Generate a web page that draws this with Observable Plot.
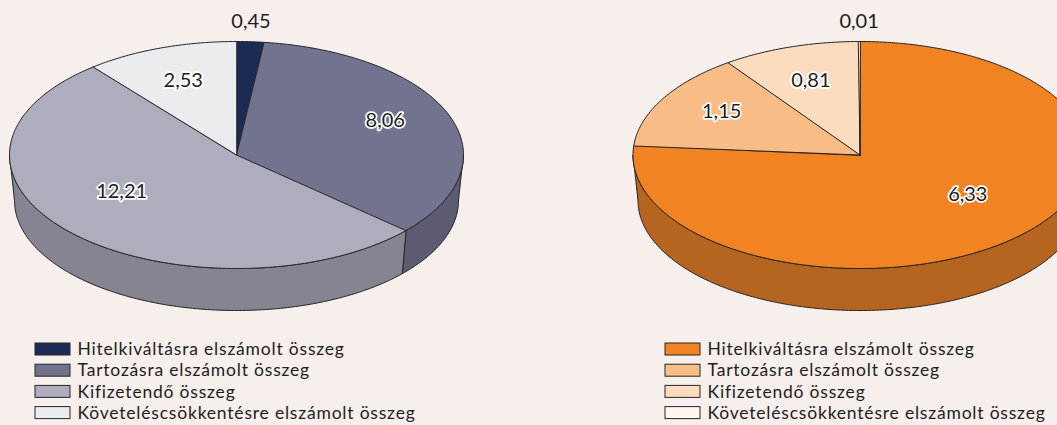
<!DOCTYPE html>
<html><head><meta charset="utf-8">
<script src="https://cdn.jsdelivr.net/npm/d3@7"></script>
<script src="https://cdn.jsdelivr.net/npm/@observablehq/plot@0.6"></script>
<style>
html,body{margin:0;padding:0;background:#F6EFEC;}
#chart{width:1057px;height:425px;overflow:hidden;}
</style></head><body><div id="chart"></div>
<script>
// ---- data ----
const categories = ["Hitelkiváltásra elszámolt összeg","Tartozásra elszámolt összeg","Kifizetendő összeg","Követeléscsökkentésre elszámolt összeg"];
const leftValues = [0.45, 8.06, 12.21, 2.53];
const rightValues = [6.33, 1.15, 0.81, 0.01];
const leftColors = ["#1B2B55","#72738F","#AEADBE","#EBECEF"];
const leftSideColors = ["#121D3A","#5B5B72","#868491","#BCBDC0"];
const rightColors = ["#F28322","#F8BC86","#FCDCBE","#FEF7F0"];
const rightSideColors = ["#B5651F","#C4926A","#CCB29A","#CFC9C3"];
const fmt = v => v.toFixed(2).replace(".", ",");

// ---- layout ----
const W = 1057, H = 425;
const CY = 154.5, RX = 227, RY = 113.5;      // top face ellipse
const BCY = 200, BRX = 222, BRY = 110;       // bottom rim ellipse (perspective)
const pies = [
  {values: leftValues, colors: leftColors, side: leftSideColors, cx: 236, lx: 35},
  {values: rightValues, colors: rightColors, side: rightSideColors, cx: 859.5, lx: 665}
];
const topPt = (cx, a) => ({x: cx + RX * Math.sin(a), y: CY - RY * Math.cos(a)});
const botPt = (cx, a) => ({x: cx + BRX * Math.sin(a), y: BCY - BRY * Math.cos(a)});
function arc(fn, cx, a0, a1) {
  const n = Math.max(2, Math.ceil(Math.abs(a1 - a0) / (Math.PI / 180)) + 1);
  return d3.range(n).map(i => fn(cx, a0 + (a1 - a0) * i / (n - 1)));
}

const sidePolys = [], topPolys = [], labels = [], legendRows = [];
pies.forEach((p, pi) => {
  const total = d3.sum(p.values);
  let acc = 0;
  p.values.forEach((v, i) => {
    const a0 = acc / total * 2 * Math.PI;
    acc += v;
    const a1 = acc / total * 2 * Math.PI;
    topPolys.push({fill: p.colors[i], pts: [{x: p.cx, y: CY}, ...arc(topPt, p.cx, a0, a1)]});
    const s = Math.max(a0, Math.PI / 2), e = Math.min(a1, 3 * Math.PI / 2);
    if (e > s) {
      sidePolys.push({fill: p.side[i], pts: [...arc(topPt, p.cx, s, e), ...arc(botPt, p.cx, e, s)]});
    }
    const m = (a0 + a1) / 2;
    const frac = v / total;
    if (frac < 0.03) {
      labels.push({x: p.cx + RX * 1.05 * Math.sin(m), y: CY - RY - 20, text: fmt(v), outside: true});
    } else {
      labels.push({x: p.cx + 0.7 * RX * Math.sin(m), y: CY - 10 - 0.6 * RY * Math.cos(m), text: fmt(v), outside: false});
    }
    legendRows.push({x: p.lx, y: 349 + i * 21.2, fill: p.colors[i], text: categories[i]});
  });
});

const polyMark = poly => Plot.line(poly.pts, {
  x: "x", y: "y", fill: poly.fill, stroke: "#262626", strokeWidth: 1,
  curve: "linear-closed", strokeLinejoin: "round"
});

const chart = Plot.plot({
  width: W, height: H, margin: 0,
  x: {domain: [0, W], range: [0, W], axis: null},
  y: {domain: [0, H], range: [0, H], axis: null},
  style: {background: "#F6EFEC", fontFamily: "Lato, sans-serif", overflow: "hidden"},
  marks: [
    ...sidePolys.map(polyMark),
    ...topPolys.map(polyMark),
    Plot.text(labels.filter(d => !d.outside), {
      x: "x", y: "y", text: "text", fontSize: 20, fill: "#1E1E1E",
      stroke: "white", strokeWidth: 3.5, paintOrder: "stroke", strokeLinejoin: "round",
      lineAnchor: "middle", textAnchor: "middle"
    }),
    Plot.text(labels.filter(d => d.outside), {
      x: "x", y: "y", text: "text", fontSize: 20, fill: "#1E1E1E",
      lineAnchor: "middle", textAnchor: "middle"
    }),
    Plot.rect(legendRows, {
      x1: "x", x2: d => d.x + 35, y1: d => d.y - 6, y2: d => d.y + 6,
      fill: "fill", stroke: "#262626", strokeWidth: 1
    }),
    Plot.text(legendRows, {
      x: d => d.x + 42, y: "y", text: "text", fontSize: 17.5, fill: "#1E1E1E",
      textAnchor: "start", lineAnchor: "middle"
    })
  ]
});
// widen legend lettering slightly to match the reference's text extent
const textGroups = chart.querySelectorAll('g[aria-label="text"]');
textGroups[textGroups.length - 1].setAttribute("letter-spacing", "0.8");
document.getElementById("chart").appendChild(chart);
</script>
</body></html>
